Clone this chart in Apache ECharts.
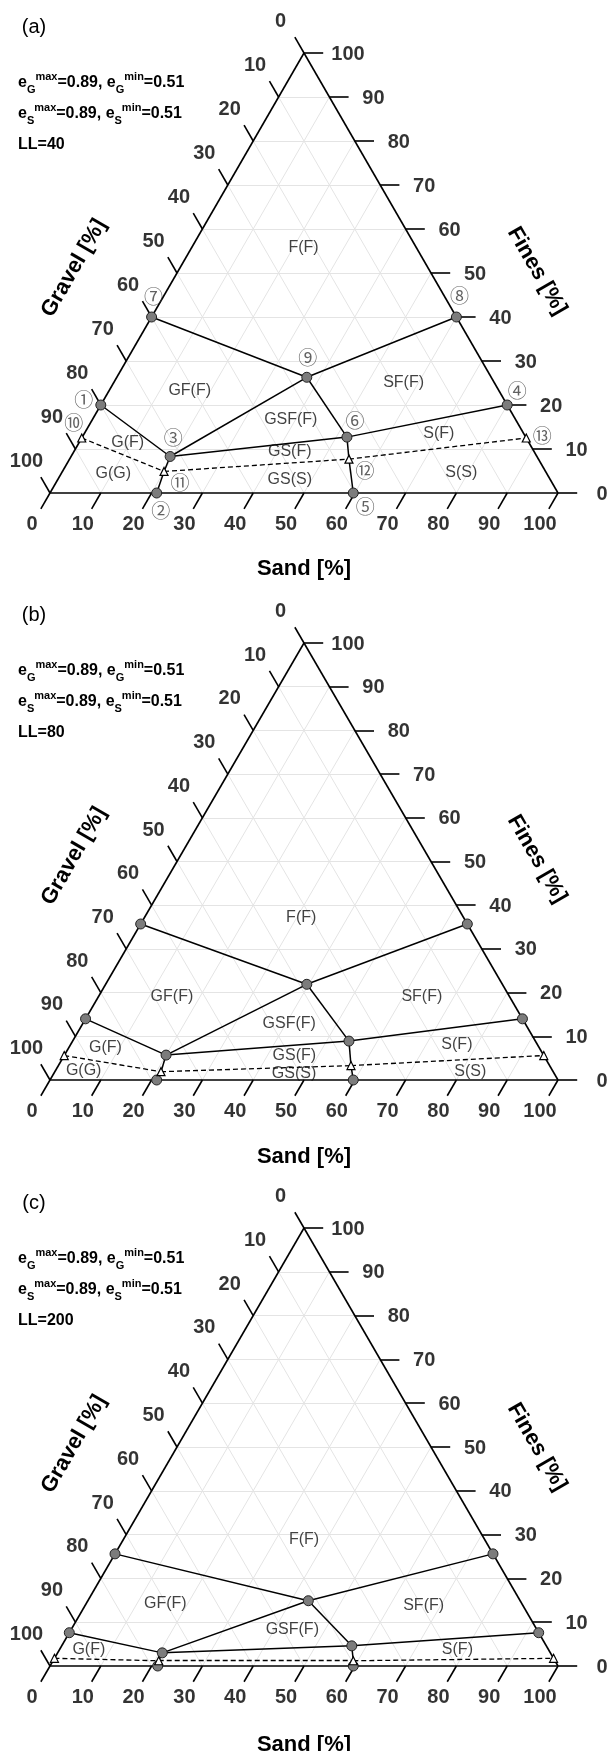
<!DOCTYPE html>
<html><head><meta charset="utf-8">
<script src="https://cdn.jsdelivr.net/npm/echarts/dist/echarts.min.js"></script>
<style>html,body{margin:0;padding:0;background:#fff}#c{width:607px;height:1751px}</style>
</head><body><div id="c"></div>
<script>
// ---------------- data ----------------
const panelTags = ['(a)', '(b)', '(c)'];
const liquidLimits = [40, 80, 200];
const eGmax = '0.89', eGmin = '0.51', eSmax = '0.89', eSmin = '0.51';
const tickValues = [0, 10, 20, 30, 40, 50, 60, 70, 80, 90, 100];
const gridValues = [10, 20, 30, 40, 50, 60, 70, 80, 90];

const pointIds = ['①','②','③','④','⑤','⑥','⑦','⑧','⑨','⑩','⑪','⑫','⑬'];
// Sand [%] and Fines [%] of points ①..⑬ (gravel = 100 - sand - fines)
const sandA  = [0, 21, 19.5, 80, 59.7, 52.1, 0, 60, 37.4, 0, 20, 55, 87.5];
const finesA = [20, 0, 8.3, 20, 0, 12.7, 40, 40, 26.3, 12.5, 4.9, 7.7, 12.5];
const sandB  = [0, 21, 20.0, 86, 59.7, 54.4, 0, 64.3, 39.6, 0, 20.9, 57.6, 94.4];
const finesB = [14, 0, 5.7, 14, 0, 8.9, 35.7, 35.7, 21.9, 5.6, 1.9, 3.3, 5.6];
const sandC  = [0, 21.2, 20.6, 92.4, 59.7, 57.1, 0, 74.4, 43.4, 0, 20.8, 59.1, 98.25];
const finesC = [7.6, 0, 3.0, 7.6, 0, 4.6, 25.6, 25.6, 14.9, 1.75, 1.2, 1.2, 1.75];

const circlePointNos = [1, 2, 3, 4, 5, 6, 7, 8, 9];
const trianglePointNos = [10, 11, 12, 13];
const solidLinks = [[7,9],[9,8],[1,3],[3,9],[9,6],[3,6],[6,4],[3,11],[11,2],[6,12],[12,5]];
const dashedLinks = [[10,11],[11,12],[12,13]];

// zone names and their (sand, fines) location
const zonesA = ['F(F)','GF(F)','GSF(F)','GS(F)','GS(S)','G(F)','G(G)','SF(F)','S(F)','S(S)'];
const zoneSandA  = [22.0, 15.9, 39.1, 42.5, 45.7, 9.6, 10.2, 57.1, 69.8, 78.6];
const zoneFinesA = [55.8, 23.2, 16.6, 9.4, 3.0, 11.4, 4.5, 25.0, 13.5, 4.7];
const zonesB = ['F(F)','GF(F)','SF(F)','GSF(F)','G(F)','GS(F)','S(F)','G(G)','GS(S)','S(S)'];
const zoneSandB  = [30.9, 14.4, 63.6, 40.6, 7.2, 45.3, 76.1, 5.6, 47.3, 81.8];
const zoneFinesB = [37.1, 19.2, 19.2, 13.0, 7.4, 5.6, 8.0, 2.05, 1.5, 1.9];
const zonesC = ['F(F)','GF(F)','SF(F)','GSF(F)','G(F)','S(F)'];
const zoneSandC  = [35.6, 15.6, 66.7, 43.6, 5.75, 78.3];
const zoneFinesC = [28.8, 14.2, 13.7, 8.2, 3.8, 3.8];

// ---------------- layout / style ----------------
const FONT = '"Liberation Sans", Arial, Helvetica, sans-serif';
const apexY = [53, 643, 1228];
const baseY = [493, 1080, 1666];
const headY = [0, 588, 1176];
const idOffsets = [[-17,-5],[4,18],[3,-19],[10,-14],[12,14],[8,-16],[2,-20],[3,-21],[1,-19],[-8,-15],[16,11],[16,12],[16,-2]];
const TL = 3.6; // tick length in axis units

const SQ = Math.sqrt(3) / 2;
function xy(s, f) { return [s + f / 2, f * SQ]; }

const panels = [
  {sand: sandA, fines: finesA, zones: zonesA, zs: zoneSandA, zf: zoneFinesA, ids: true},
  {sand: sandB, fines: finesB, zones: zonesB, zs: zoneSandB, zf: zoneFinesB, ids: false},
  {sand: sandC, fines: finesC, zones: zonesC, zs: zoneSandC, zf: zoneFinesC, ids: false}
];

const grids = [], xAxes = [], yAxes = [], series = [], graphics = [];

panels.forEach((p, i) => {
  grids.push({left: 50, width: 508, top: apexY[i], height: baseY[i] - apexY[i]});
  xAxes.push({type: 'value', gridIndex: i, min: 0, max: 100, show: false});
  yAxes.push({type: 'value', gridIndex: i, min: 0, max: 100 * SQ, show: false});
  const ax = {xAxisIndex: i, yAxisIndex: i};

  // light grid
  const gl = [];
  gridValues.forEach(v => {
    gl.push({coords: [xy(0, v), xy(100 - v, v)]});
    gl.push({coords: [xy(v, 0), xy(v, 100 - v)]});
    gl.push({coords: [xy(100 - v, 0), xy(0, 100 - v)]});
  });
  series.push(Object.assign({type: 'lines', coordinateSystem: 'cartesian2d', silent: true, z: 1,
    lineStyle: {color: '#e4e4e4', width: 1, opacity: 1}, data: gl}, ax));

  // outline
  series.push(Object.assign({type: 'lines', coordinateSystem: 'cartesian2d', silent: true, z: 3, clip: false,
    lineStyle: {color: '#000', width: 1.6, opacity: 1},
    data: [{coords: [xy(0, 0), xy(100, 0)]}, {coords: [xy(100, 0), xy(0, 100)]}, {coords: [xy(0, 100), xy(0, 0)]}]}, ax));

  // ticks
  const tk = [];
  tickValues.forEach(v => {
    let b = xy(v, 0); tk.push({coords: [b, [b[0] - 0.5 * TL, b[1] - SQ * TL]]});        // sand
    b = xy(0, 100 - v); tk.push({coords: [b, [b[0] - 0.5 * TL, b[1] + SQ * TL]]});     // gravel
    b = xy(100 - v, v); tk.push({coords: [b, [b[0] + TL * 1.05, b[1]]]});              // fines
  });
  series.push(Object.assign({type: 'lines', coordinateSystem: 'cartesian2d', silent: true, z: 3, clip: false,
    lineStyle: {color: '#000', width: 1.6, opacity: 1}, data: tk}, ax));

  // tick labels
  const tickLabelSeries = (pts, off) => Object.assign({
    type: 'scatter', silent: true, clip: false, symbolSize: 0, z: 5,
    label: {show: true, position: 'inside', formatter: '{b}', offset: off,
      color: '#000', fontFamily: FONT, fontWeight: 'bold', fontSize: 20},
    data: pts
  }, ax);
  series.push(tickLabelSeries(tickValues.map(v => ({name: String(v), value: xy(v, 0)})), [-18, 31]));
  series.push(tickLabelSeries(tickValues.map(v => ({name: String(v), value: xy(0, 100 - v)})), [-23.5, -31.5]));
  series.push(tickLabelSeries(tickValues.map(v => ({name: String(v), value: xy(100 - v, v)})), [44, 1]));

  const pt = n => xy(p.sand[n - 1], p.fines[n - 1]);

  // boundaries
  series.push(Object.assign({type: 'lines', coordinateSystem: 'cartesian2d', silent: true, z: 4,
    lineStyle: {color: '#000', width: 1.5, opacity: 1},
    data: solidLinks.map(l => ({coords: [pt(l[0]), pt(l[1])]}))}, ax));
  series.push(Object.assign({type: 'lines', coordinateSystem: 'cartesian2d', silent: true, z: 4,
    lineStyle: {color: '#000', width: 1.3, type: [5, 3], opacity: 1},
    data: dashedLinks.map(l => ({coords: [pt(l[0]), pt(l[1])]}))}, ax));

  // points
  series.push(Object.assign({type: 'scatter', silent: true, clip: false, z: 6, symbol: 'circle', symbolSize: 10,
    itemStyle: {color: '#7c7c7c', borderColor: '#222', borderWidth: 1, opacity: 1},
    data: circlePointNos.map(n => pt(n))}, ax));
  series.push(Object.assign({type: 'scatter', silent: true, clip: false, z: 6, symbol: 'triangle', symbolSize: 8,
    itemStyle: {color: '#fff', borderColor: '#000', borderWidth: 1.2, opacity: 1},
    data: trianglePointNos.map(n => pt(n))}, ax));

  // point ids
  if (p.ids) {
    series.push(Object.assign({type: 'scatter', silent: true, clip: false, z: 7, symbolSize: 0,
      label: {show: true, position: 'inside', formatter: '{b}', color: '#3a3a3a',
        fontFamily: '"Noto Sans CJK JP", "DejaVu Sans", serif', fontSize: 19},
      data: pointIds.map((id, k) => ({name: id, value: pt(k + 1), label: {offset: idOffsets[k]}}))}, ax));
  }

  // zone names
  series.push(Object.assign({type: 'scatter', silent: true, clip: false, z: 7, symbolSize: 0,
    label: {show: true, position: 'inside', formatter: '{b}', color: '#111', fontFamily: FONT, fontSize: 16},
    data: p.zones.map((z, k) => ({name: z, value: xy(p.zs[k], p.zf[k])}))}, ax));

  // texts
  const h = headY[i];
  graphics.push({type: 'text', x: 34, y: 27 + h, style: {text: panelTags[i], font: '20px ' + FONT, fill: '#000',
    textAlign: 'center', textVerticalAlign: 'middle'}});
  const rich = {
    m: {fontSize: 16, fontWeight: 'bold', fontFamily: FONT, fill: '#000', lineHeight: 24, verticalAlign: 'middle'},
    sp: {fontSize: 11, fontWeight: 'bold', fontFamily: FONT, fill: '#000', lineHeight: 12, verticalAlign: 'top'},
    sb: {fontSize: 11, fontWeight: 'bold', fontFamily: FONT, fill: '#000', lineHeight: 12, verticalAlign: 'bottom'}
  };
  graphics.push({type: 'text', x: 18, y: 83 + h, style: {
    text: '{m|e}{sb|G}{sp|max}{m|=' + eGmax + ', e}{sb|G}{sp|min}{m|=' + eGmin + '}',
    rich: rich, textAlign: 'left', textVerticalAlign: 'middle'}});
  graphics.push({type: 'text', x: 18, y: 114 + h, style: {
    text: '{m|e}{sb|S}{sp|max}{m|=' + eSmax + ', e}{sb|S}{sp|min}{m|=' + eSmin + '}',
    rich: rich, textAlign: 'left', textVerticalAlign: 'middle'}});
  graphics.push({type: 'text', x: 18, y: 145 + h, style: {text: 'LL=' + liquidLimits[i],
    font: 'bold 16px ' + FONT, fill: '#000', textAlign: 'left', textVerticalAlign: 'middle'}});
  graphics.push({type: 'text', x: 74, y: 268 + h, rotation: Math.PI / 3, style: {text: 'Gravel [%]',
    font: 'bold 22px ' + FONT, fill: '#000', textAlign: 'center', textVerticalAlign: 'middle'}});
  graphics.push({type: 'text', x: 537, y: 271 + h, rotation: -Math.PI / 3, style: {text: 'Fines [%]',
    font: 'bold 22px ' + FONT, fill: '#000', textAlign: 'center', textVerticalAlign: 'middle'}});
  graphics.push({type: 'text', x: 304, y: 569 + h, style: {text: 'Sand [%]',
    font: 'bold 22px ' + FONT, fill: '#000', textAlign: 'center', textVerticalAlign: 'middle'}});
});

const chart = echarts.init(document.getElementById('c'), null, {renderer: 'canvas'});
chart.setOption({
  animation: false,
  backgroundColor: '#fff',
  grid: grids, xAxis: xAxes, yAxis: yAxes,
  series: series,
  graphic: graphics
});
</script></body></html>
